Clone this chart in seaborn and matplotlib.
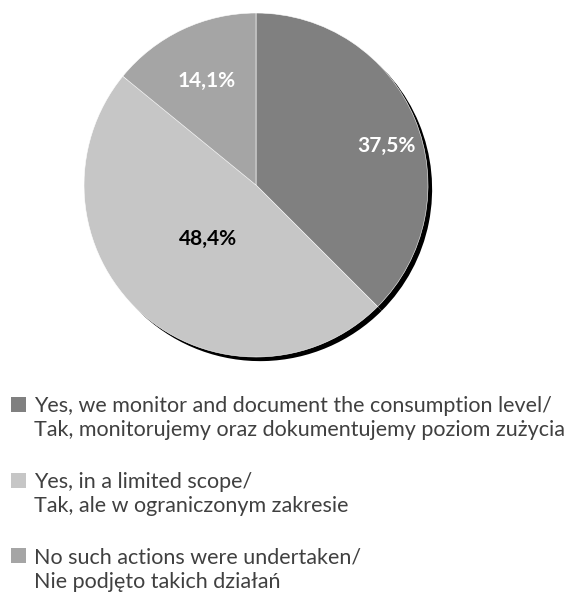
import numpy as np
import seaborn as sns
import matplotlib.pyplot as plt
from matplotlib.patches import Rectangle

# data
labels_en = [
    "Yes, we monitor and document the consumption level/",
    "Yes, in a limited scope/",
    "No such actions were undertaken/",
]
labels_pl = [
    "Tak, monitorujemy oraz dokumentujemy poziom zużycia",
    "Tak, ale w ograniczonym zakresie",
    "Nie podjęto takich działań",
]
shares = [37.5, 48.4, 14.1]
pct_text = ["37,5%", "48,4%", "14,1%"]

colors = ["#808080", "#c6c6c6", "#a5a5a5"]
pct_colors = ["white", "black", "white"]
# label placement (radius fraction, angle nudge in degrees)
pct_dist = [0.79, 0.42, 0.67]
pct_nudge = [-6, 0, 0]

sns.set_style("white")
plt.rcParams["font.family"] = ["Lato", "DejaVu Sans"]

W, H = 586, 594
fig = plt.figure(figsize=(W / 100, H / 100), dpi=100)

# pie axes: centre (256, 185) px, radius 172 px
cx, cy, r = 256, 185, 172
ax = fig.add_axes([(cx - r) / W, 1 - (cy + r) / H, 2 * r / W, 2 * r / H])

# black drop shadow: same pie, shifted down-right, drawn first
ax.pie(
    shares,
    colors=["black"] * len(shares),
    startangle=90,
    counterclock=False,
    radius=1.0,
    center=(0.024, -0.024),
    wedgeprops={"linewidth": 0},
)
wedges, _ = ax.pie(
    shares,
    colors=colors,
    startangle=90,
    counterclock=False,
    radius=1.0,
    wedgeprops={"linewidth": 0.4, "edgecolor": "#ffffff"},
)
for p in ax.patches:
    p.set_clip_on(False)
ax.set_xlim(-1, 1)
ax.set_ylim(-1, 1)
ax.set_aspect("equal")
ax.axis("off")

for w, txt, c, d, n in zip(wedges, pct_text, pct_colors, pct_dist, pct_nudge):
    ang = np.deg2rad((w.theta1 + w.theta2) / 2 + n)
    ax.text(
        d * np.cos(ang),
        d * np.sin(ang),
        txt,
        ha="center",
        va="center",
        color=c,
        fontsize=15,
        fontweight="bold",
    )

# legend drawn by hand: square + two lines of text
top0 = 397
step = 75.5
sq = 15
for i, (en, pl) in enumerate(zip(labels_en, labels_pl)):
    top = top0 + i * step
    fig.add_artist(
        Rectangle(
            (11 / W, 1 - (top + sq) / H),
            sq / W,
            sq / H,
            transform=fig.transFigure,
            facecolor=colors[i],
            edgecolor="none",
        )
    )
    fig.text(34 / W, 1 - (top + 15) / H, en, va="baseline", ha="left",
             fontsize=15.5, color="#404040")
    fig.text(34 / W, 1 - (top + 39.5) / H, pl, va="baseline", ha="left",
             fontsize=15.5, color="#404040")

fig.savefig("out.png", dpi=100)
